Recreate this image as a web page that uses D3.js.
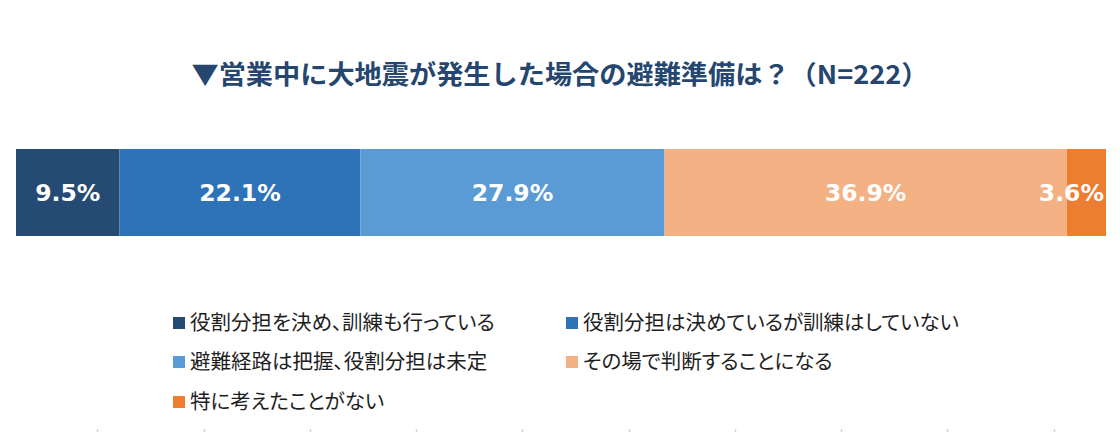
<!DOCTYPE html>
<html>
<head>
<meta charset="utf-8">
<script src="https://cdn.jsdelivr.net/npm/d3@7"></script>
<style>
  html, body { margin: 0; padding: 0; background: #ffffff; }
  svg { display: block; }
  .leg text { font-feature-settings: "palt" 1; }
</style>
</head>
<body>
<svg id="chart" width="1120" height="432"></svg>
<script>
const titleText = "▼営業中に大地震が発生した場合の避難準備は？（N=222）";
const categories = [
  "役割分担を決め、訓練も行っている",
  "役割分担は決めているが訓練はしていない",
  "避難経路は把握、役割分担は未定",
  "その場で判断することになる",
  "特に考えたことがない"
];
const values = [9.5, 22.1, 27.9, 36.9, 3.6];
const colors = ["#254a73", "#2e73b8", "#5b9bd5", "#f4b183", "#ed7d31"];
const bottomTicks = [0, 1, 2, 3, 4, 5, 6, 7, 8, 9];

const svg = d3.select("#chart");
const W = 1120, H = 432;

// Title
svg.append("text")
  .attr("x", W / 2)
  .attr("y", 84)
  .attr("text-anchor", "middle")
  .attr("font-family", "'Noto Sans CJK JP', 'Noto Sans', sans-serif")
  .attr("font-weight", "bold")
  .attr("font-size", 26)
  .attr("fill", "#24466f")
  .attr("textLength", 737)
  .attr("lengthAdjust", "spacingAndGlyphs")
  .text(titleText);

// Stacked bar
const total = d3.sum(values);
const x = d3.scaleLinear().domain([0, total]).range([16, 1106]);
const y = d3.scaleBand().domain(["all"]).range([149, 236]).padding(0);

let acc = 0;
const segs = values.map((v, i) => {
  const s = { v, i, x0: acc, x1: acc + v };
  acc += v;
  return s;
});

svg.append("g").selectAll("rect")
  .data(segs)
  .join("rect")
  .attr("x", d => x(d.x0))
  .attr("y", y("all"))
  .attr("width", d => x(d.x1) - x(d.x0))
  .attr("height", y.bandwidth())
  .attr("fill", d => colors[d.i]);

const labels = svg.append("g").selectAll("text")
  .data(segs)
  .join("text")
  .attr("x", d => (x(d.x0) + x(d.x1)) / 2)
  .attr("y", y("all") + y.bandwidth() / 2)
  .attr("dy", "0.36em")
  .attr("text-anchor", "middle")
  .attr("font-family", "'DejaVu Sans', Verdana, sans-serif")
  .attr("font-weight", "bold")
  .attr("font-size", 23.5)
  .attr("fill", "#ffffff")
  .text(d => d.v.toFixed(1) + "%");

// keep labels inside the chart's right edge
labels.each(function(d) {
  const w = this.getComputedTextLength();
  const cx = (x(d.x0) + x(d.x1)) / 2;
  const maxC = x.range()[1] - 2 - w / 2;
  if (cx > maxC) d3.select(this).attr("x", maxC);
});

// Legend
const colX = [173, 566];
const rowY = [323, 362, 402];
const leg = svg.append("g").attr("class", "leg").selectAll("g")
  .data(categories)
  .join("g")
  .attr("transform", (d, i) => `translate(${colX[i % 2]},${rowY[Math.floor(i / 2)]})`);

leg.append("rect")
  .attr("x", 0)
  .attr("y", -6)
  .attr("width", 12)
  .attr("height", 12)
  .attr("fill", (d, i) => colors[i]);

leg.append("text")
  .attr("x", 17)
  .attr("y", 0)
  .attr("dy", "0.36em")
  .attr("font-family", "'Noto Sans CJK JP', sans-serif")
  .attr("font-size", 20.5)
  .attr("fill", "#1e1e1e")
  .text(d => d);

// faint bottom ticks (cut-off axis)
const tx = d3.scaleLinear().domain([0, 9]).range([97.3, 1053.5]);
svg.append("g").selectAll("line")
  .data(bottomTicks)
  .join("line")
  .attr("x1", d => Math.round(tx(d)) + 0.5)
  .attr("x2", d => Math.round(tx(d)) + 0.5)
  .attr("y1", 429)
  .attr("y2", 432)
  .attr("stroke", "#d4d4d4")
  .attr("stroke-width", 1.5);
</script>
</body>
</html>
